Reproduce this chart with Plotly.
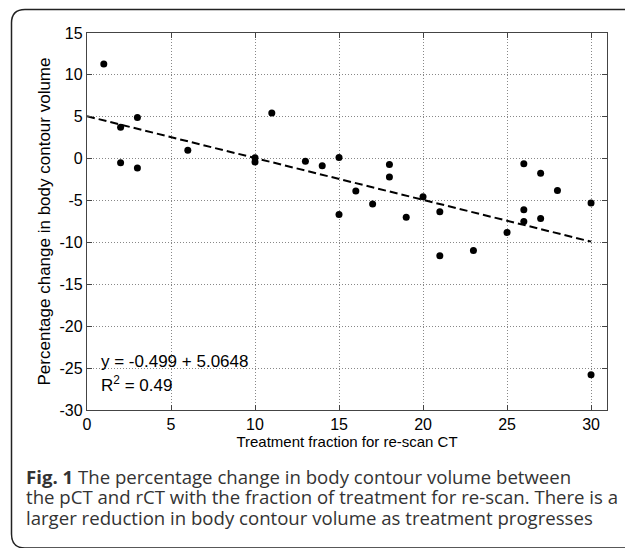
import plotly.graph_objects as go

# ---- data ----
fraction = [1, 2, 2, 3, 3, 6, 10, 10, 11, 13, 14, 15, 15, 16, 17, 18, 18, 19, 20,
            21, 21, 23, 25, 26, 26, 26, 27, 27, 28, 30, 30]
pct_change = [11.3, 3.75, -0.5, 4.9, -1.1, 1.0, 0.1, -0.4, 5.45, -0.3, -0.85, 0.15,
              -6.65, -3.85, -5.4, -0.7, -2.2, -7.0, -4.55, -6.35, -11.6, -10.95,
              -8.8, -0.6, -6.1, -7.5, -1.75, -7.15, -3.8, -5.3, -25.8]
fit_slope = -0.499
fit_intercept = 5.0648
fit_x = [0, 30]
fit_y = [fit_slope * x + fit_intercept for x in fit_x]
x_ticks = [0, 5, 10, 15, 20, 25, 30]
x_tick_labels = ["0", "5", "10", "15", "20", "25", "30"]
y_ticks = [15, 10, 5, 0, -5, -10, -15, -20, -25, -30]
y_tick_labels = ["15", "10", "5", "0", "-5", "-10", "-15", "-20", "-25", "-30"]
eq_text = "y = -0.499 + 5.0648"
r2_text = "R<sup>2</sup> = 0.49"
x_title = "Treatment fraction for re-scan CT"
y_title = "Percentage change in body contour volume"
caption_lines = [
    "<b>Fig. 1</b> The percentage change in body contour volume between",
    "the pCT and rCT with the fraction of treatment for re-scan. There is a",
    "larger reduction in body contour volume as treatment progresses",
]

W, H = 625, 548
L, R, T, B = 87, 607, 33, 410


def px(x):
    return (x - L) / (R - L)


def py(y):
    return (B - y) / (B - T)


fig = go.Figure()
fig.add_trace(go.Scatter(
    x=fit_x, y=fit_y, mode="lines",
    line=dict(color="black", width=2, dash="8px,4px"),
    hoverinfo="skip", showlegend=False))
fig.add_trace(go.Scatter(
    x=fraction, y=pct_change, mode="markers",
    marker=dict(color="black", size=7),
    showlegend=False))

axis_font = dict(family="Liberation Sans, Arial, sans-serif", size=16, color="black")

fig.update_xaxes(
    range=[0, 30.95], tickvals=x_ticks, ticktext=x_tick_labels, ticks="inside", ticklen=5,
    tickcolor="#444", mirror="allticks", showline=True, linecolor="#444",
    linewidth=1.3, showgrid=True, gridcolor="#888", griddash="1px,2px",
    gridwidth=1, zeroline=False, tickfont=axis_font,
    title=dict(text=x_title, font=dict(family="Liberation Sans, Arial, sans-serif",
                                       size=15, color="black"), standoff=4))
fig.update_yaxes(
    range=[-30, 15], tickvals=y_ticks, ticktext=y_tick_labels, ticks="inside", ticklen=5,
    tickcolor="#444", mirror="allticks", showline=True, linecolor="#444",
    linewidth=1.3, showgrid=True, gridcolor="#888", griddash="1px,2px",
    gridwidth=1, zeroline=False, tickfont=axis_font,
    title=dict(text=y_title, font=dict(family="Liberation Sans, Arial, sans-serif",
                                       size=17, color="black"), standoff=4))

annots = [
    dict(text=eq_text, x=px(99), y=py(361), xanchor="left", yanchor="middle"),
    dict(text=r2_text, x=px(99), y=py(384), xanchor="left", yanchor="middle"),
]
for a in annots:
    fig.add_annotation(xref="paper", yref="paper", showarrow=False,
                       font=dict(family="Liberation Sans, Arial, sans-serif",
                                 size=17, color="black"), **a)

cap_y = [476, 496.5, 517]
for txt, yy in zip(caption_lines, cap_y):
    fig.add_annotation(xref="paper", yref="paper", showarrow=False,
                       text=txt, x=px(24), y=py(yy), xanchor="left", yanchor="middle",
                       font=dict(family="Open Sans, sans-serif", size=18.6, color="#333"))

# rounded frame (top + left, open on the right)
path = (f"M {px(640)},{py(9.5)} L {px(25)},{py(9.5)} "
        f"Q {px(11.5)},{py(9.5)} {px(11.5)},{py(23)} "
        f"L {px(11.5)},{py(534)} Q {px(11.5)},{py(548)} {px(25)},{py(548)} "
        f"L {px(640)},{py(548)}")
fig.add_shape(type="path", path=path, xref="paper", yref="paper",
              line=dict(color="#222", width=1.5))

fig.update_layout(
    width=W, height=H,
    margin=dict(l=L, r=W - R, t=T, b=H - B),
    paper_bgcolor="white", plot_bgcolor="white",
    font=dict(family="Liberation Sans, Arial, sans-serif", color="black"),
)

fig.write_html("out.html", config={"displayModeBar": False},
               post_script="document.body.style.margin='0';")
